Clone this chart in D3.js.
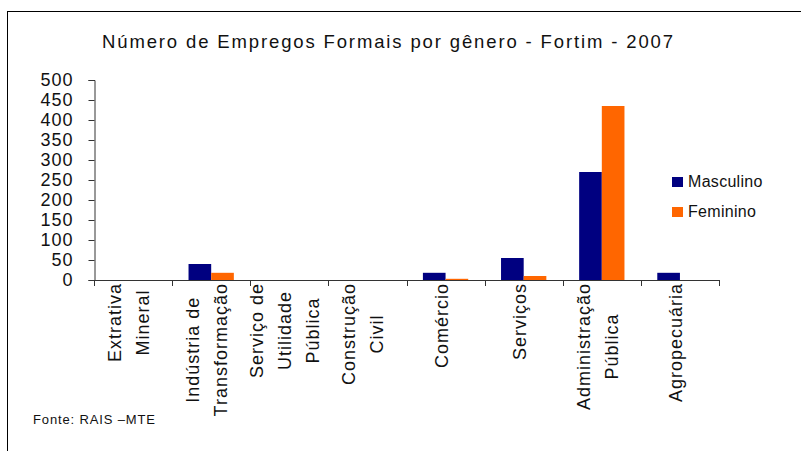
<!DOCTYPE html>
<html>
<head>
<meta charset="utf-8">
<script src="https://cdn.jsdelivr.net/npm/d3@7"></script>
<style>
    body { margin: 0; background: #fff; }
    svg { display: block; font-family: 'Liberation Sans', Arial, sans-serif; }
</style>
</head>
<body>
<div id="chart"></div>
<script>
// chart data
var categories = ['Extrativa Mineral', 'Indústria de Transformação', 'Serviço de Utilidade Pública',
    'Construção Civil', 'Comércio', 'Serviços', 'Administração Pública', 'Agropecuária'];
var categoryLines = [['Extrativa', 'Mineral'], ['Indústria de', 'Transformação'], ['Serviço de', 'Utilidade', 'Pública'],
    ['Construção', 'Civil'], ['Comércio'], ['Serviços'], ['Administração', 'Pública'], ['Agropecuária']];
var series = ['Masculino', 'Feminino'];
var masculino = [0, 40, 0, 0, 18, 55, 270, 18];
var feminino = [0, 18, 0, 0, 3, 10, 435, 0];
var yTicks = [0, 50, 100, 150, 200, 250, 300, 350, 400, 450, 500];
var colors = ['#000080', '#FF6600'];

var width = 801, height = 451;

var svg = d3.select('#chart').append('svg')
    .attr('width', width)
    .attr('height', height);

//outer frame, clipped at right and bottom like the source
svg.append('rect')
    .attr('x', 7.5).attr('y', 11.5)
    .attr('width', 820).attr('height', 460)
    .attr('fill', 'none')
    .attr('stroke', '#000')
    .attr('stroke-width', 1);

//title
svg.append('text')
    .attr('x', 102).attr('y', 48)
    .attr('font-size', 18.5)
    .attr('fill', '#111')
    .attr('textLength', 571)
    .attr('lengthAdjust', 'spacing')
    .text('Número de Empregos Formais por gênero - Fortim - 2007');

//scales
var x = d3.scaleBand().domain(categories).range([94, 719]);
var bw = x.bandwidth();
var x1 = d3.scaleBand().domain(series).range([bw * 0.21, bw * 0.79]);
var y = d3.scaleLinear().domain([0, 500]).range([280, 80]);

//bars
var rows = categories.map(function (c, i) {
    return { cat: c, values: [masculino[i], feminino[i]] };
});

var groups = svg.append('g').selectAll('g')
    .data(rows)
    .enter().append('g')
    .attr('transform', function (d) { return 'translate(' + x(d.cat) + ',0)'; });

groups.selectAll('rect')
    .data(function (d) {
        return d.values.map(function (v, j) { return { s: series[j], v: v, j: j }; });
    })
    .enter().append('rect')
    .attr('x', function (d) { return x1(d.s); })
    .attr('width', x1.bandwidth())
    .attr('y', function (d) { return y(d.v); })
    .attr('height', function (d) { return 280 - y(d.v); })
    .attr('fill', function (d) { return colors[d.j]; });

//y axis
var yAxis = svg.append('g')
    .attr('transform', 'translate(94.5,0)')
    .call(d3.axisLeft(y).tickValues(yTicks).tickSize(6).tickPadding(15));
yAxis.select('.domain').attr('stroke', '#333');
yAxis.selectAll('.tick line').attr('stroke', '#333');
yAxis.selectAll('.tick text')
    .attr('font-size', 18)
    .attr('letter-spacing', 1)
    .attr('fill', '#111')
    .attr('font-family', "'Liberation Sans', Arial, sans-serif");

//x axis line with ticks at category boundaries
var xAxis = svg.append('g').attr('class', 'xaxis');
xAxis.append('line')
    .attr('x1', 94).attr('x2', 719.5)
    .attr('y1', 280.5).attr('y2', 280.5)
    .attr('stroke', '#333');
var bounds = categories.map(function (c) { return x(c); }).concat([x.range()[1]]);
xAxis.selectAll('line.tk')
    .data(bounds)
    .enter().append('line')
    .attr('class', 'tk')
    .attr('x1', function (d) { return Math.round(d) + 0.5; })
    .attr('x2', function (d) { return Math.round(d) + 0.5; })
    .attr('y1', 280).attr('y2', 286)
    .attr('stroke', '#333');

//rotated multi-line category labels
var lineGap = 28;
categoryLines.forEach(function (lines, i) {
    var xc = x(categories[i]) + bw / 2 - 4;
    var g = svg.append('g');
    var texts = lines.map(function (t, k) {
        return g.append('text')
            .attr('font-size', 18)
            .attr('letter-spacing', 1)
            .attr('fill', '#111')
            .attr('text-anchor', 'middle')
            .text(t);
    });
    var maxLen = d3.max(texts, function (t) { return t.node().getComputedTextLength(); });
    var yc = 283 + maxLen / 2;
    texts.forEach(function (t, k) {
        var xx = xc + (k - (lines.length - 1) / 2) * lineGap;
        t.attr('transform', 'translate(' + (xx + 6) + ',' + yc + ') rotate(-90)');
    });
});

//legend
var legend = svg.append('g').selectAll('g')
    .data(series)
    .enter().append('g')
    .attr('transform', function (d, i) { return 'translate(672,' + (177 + i * 30) + ')'; });
legend.append('rect')
    .attr('width', 11).attr('height', 10)
    .attr('fill', function (d, i) { return colors[i]; });
legend.append('text')
    .attr('x', 16).attr('y', 10)
    .attr('font-size', 16)
    .attr('letter-spacing', 0.3)
    .attr('fill', '#111')
    .text(function (d) { return d; });

//source note
svg.append('text')
    .attr('x', 33).attr('y', 424)
    .attr('font-size', 13)
    .attr('fill', '#111')
    .attr('textLength', 122)
    .attr('lengthAdjust', 'spacing')
    .text('Fonte: RAIS –MTE');
</script>
</body>
</html>
